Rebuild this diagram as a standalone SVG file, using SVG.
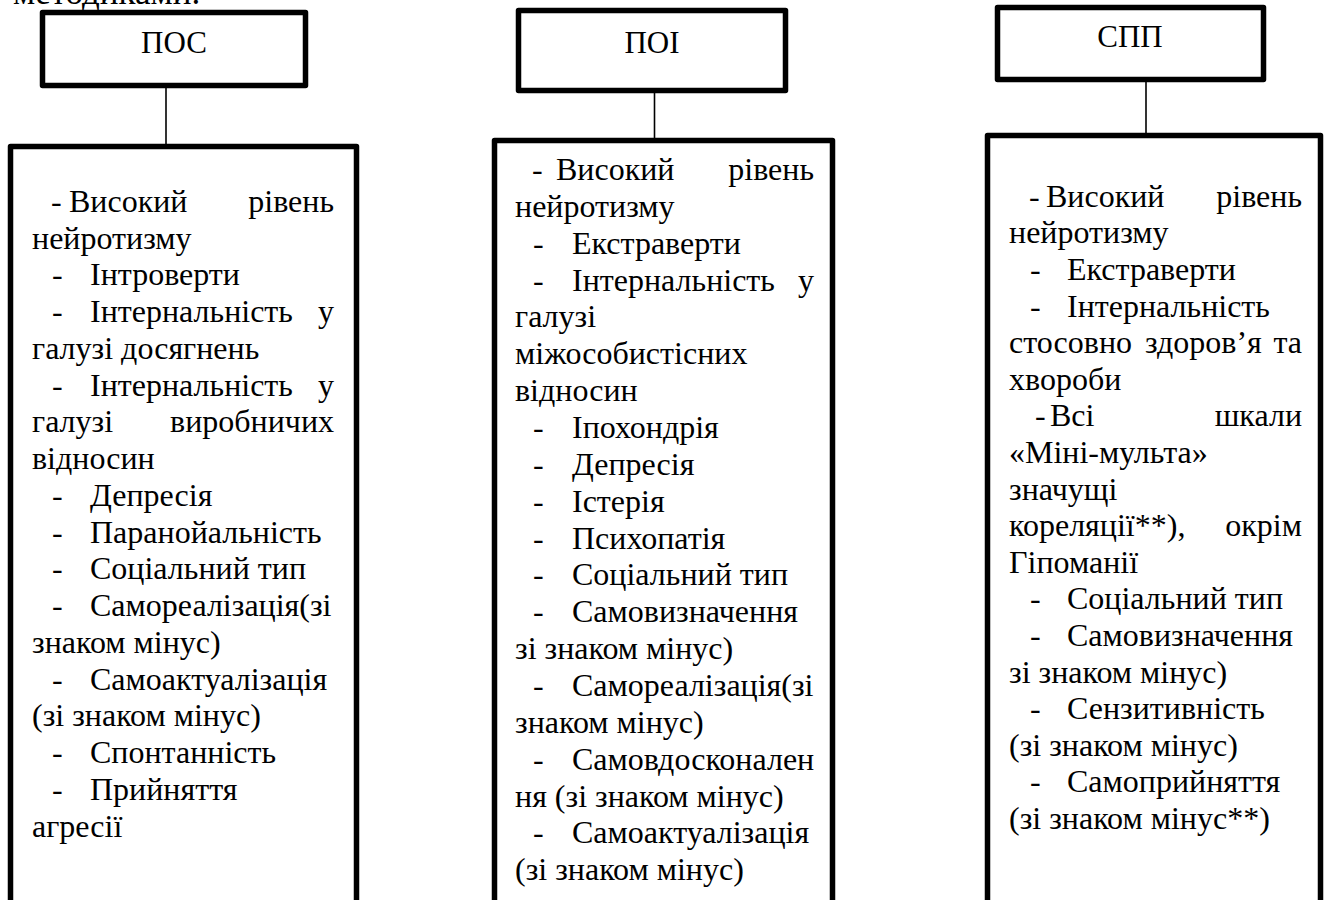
<svg xmlns="http://www.w3.org/2000/svg" width="1328" height="900" viewBox="0 0 1328 900" font-family="'Liberation Serif', 'Times New Roman', Tinos, 'DejaVu Serif', serif">
<style>
text{font-family:'Liberation Serif','Times New Roman',Tinos,'DejaVu Serif',serif;font-size:32px;fill:#000}
.hdr{font-size:31px;text-anchor:middle}
.box{fill:#fff;stroke:#000;stroke-width:5.5;stroke-linejoin:round}
.e{text-anchor:end}
.conn line{stroke:#000;stroke-width:1.6}
</style>
<rect width="1328" height="900" fill="#fff"/>
<text x="13" y="4" style="font-size:35px">методиками.</text>
<g class="conn" id="connectors">
<line x1="166" y1="76" x2="166" y2="146"/>
<line x1="654.5" y1="93" x2="654.5" y2="140"/>
<line x1="1146" y1="80" x2="1146" y2="135"/>
</g>
<g id="poc">
<rect class="box" x="42.5" y="12.5" width="263" height="73"/>
<text class="hdr" x="174" y="53">ПОС</text>
</g>
<g id="poi">
<rect class="box" x="518.5" y="10.5" width="267" height="80"/>
<text class="hdr" x="652" y="53">ПОІ</text>
</g>
<g id="spp">
<rect class="box" x="997.5" y="7.5" width="266" height="72"/>
<text class="hdr" x="1130" y="47">СПП</text>
</g>
<g id="poc-list">
<rect class="box" x="10.5" y="146.5" width="346" height="780"/>
<text x="51" y="211.7">-</text><text x="69" y="211.7">Високий</text><text class="e" x="334" y="211.7">рівень</text>
<text x="32" y="248.5">нейротизму</text>
<text x="52" y="285.2">-</text><text x="90" y="285.2">Інтроверти</text>
<text x="52" y="322">-</text><text x="90" y="322">Інтернальність</text><text class="e" x="334" y="322">у</text>
<text x="32" y="358.7">галузі досягнень</text>
<text x="52" y="395.5">-</text><text x="90" y="395.5">Інтернальність</text><text class="e" x="334" y="395.5">у</text>
<text x="32" y="432.3">галузі</text><text class="e" x="334" y="432.3">виробничих</text>
<text x="32" y="469">відносин</text>
<text x="52" y="505.8">-</text><text x="90" y="505.8">Депресія</text>
<text x="52" y="542.5">-</text><text x="90" y="542.5">Паранойальність</text>
<text x="52" y="579.3">-</text><text x="90" y="579.3">Соціальний тип</text>
<text x="52" y="616">-</text><text x="90" y="616">Самореалізація(зі</text>
<text x="32" y="652.8">знаком мінус)</text>
<text x="52" y="689.6">-</text><text x="90" y="689.6">Самоактуалізація</text>
<text x="32" y="726.3">(зі знаком мінус)</text>
<text x="52" y="763.1">-</text><text x="90" y="763.1">Спонтанність</text>
<text x="52" y="799.8">-</text><text x="90" y="799.8">Прийняття</text>
<text x="32" y="836.6">агресії</text>
</g>
<g id="poi-list">
<rect class="box" x="494.5" y="140.5" width="338" height="780"/>
<text x="532" y="180">-</text><text x="556" y="180">Високий</text><text class="e" x="814" y="180">рівень</text>
<text x="515" y="216.9">нейротизму</text>
<text x="533" y="253.7">-</text><text x="572" y="253.7">Екстраверти</text>
<text x="533" y="290.6">-</text><text x="572" y="290.6">Інтернальність</text><text class="e" x="814" y="290.6">у</text>
<text x="515" y="327.4">галузі</text>
<text x="515" y="364.3">міжособистісних</text>
<text x="515" y="401.1">відносин</text>
<text x="533" y="438">-</text><text x="572" y="438">Іпохондрія</text>
<text x="533" y="474.8">-</text><text x="572" y="474.8">Депресія</text>
<text x="533" y="511.7">-</text><text x="572" y="511.7">Істерія</text>
<text x="533" y="548.5">-</text><text x="572" y="548.5">Психопатія</text>
<text x="533" y="585.4">-</text><text x="572" y="585.4">Соціальний тип</text>
<text x="533" y="622.2">-</text><text x="572" y="622.2">Самовизначення</text>
<text x="515" y="659.1">зі знаком мінус)</text>
<text x="533" y="695.9">-</text><text x="572" y="695.9">Самореалізація(зі</text>
<text x="515" y="732.8">знаком мінус)</text>
<text x="533" y="769.6">-</text><text x="572" y="769.6">Самовдосконален</text>
<text x="515" y="806.5">ня (зі знаком мінус)</text>
<text x="533" y="843.3">-</text><text x="572" y="843.3">Самоактуалізація</text>
<text x="515" y="880.2">(зі знаком мінус)</text>
</g>
<g id="spp-list">
<rect class="box" x="987.5" y="135.5" width="333" height="780"/>
<text x="1029" y="206.7">-</text><text x="1046" y="206.7">Високий</text><text class="e" x="1302" y="206.7">рівень</text>
<text x="1009" y="243.3">нейротизму</text>
<text x="1030" y="279.9">-</text><text x="1067" y="279.9">Екстраверти</text>
<text x="1030" y="316.5">-</text><text x="1067" y="316.5">Інтернальність</text>
<text x="1009" y="353.1">стосовно</text><text x="1145" y="353.1">здоров’я</text><text class="e" x="1302" y="353.1">та</text>
<text x="1009" y="389.7">хвороби</text>
<text x="1035" y="426.3">-</text><text x="1050" y="426.3">Всі</text><text class="e" x="1302" y="426.3">шкали</text>
<text x="1009" y="462.9">«Міні-мульта»</text>
<text x="1009" y="499.5">значущі</text>
<text x="1009" y="536.1">кореляції**),</text><text class="e" x="1302" y="536.1">окрім</text>
<text x="1009" y="572.7">Гіпоманії</text>
<text x="1030" y="609.3">-</text><text x="1067" y="609.3">Соціальний тип</text>
<text x="1030" y="645.9">-</text><text x="1067" y="645.9">Самовизначення</text>
<text x="1009" y="682.5">зі знаком мінус)</text>
<text x="1030" y="719.1">-</text><text x="1067" y="719.1">Сензитивність</text>
<text x="1009" y="755.7">(зі знаком мінус)</text>
<text x="1030" y="792.3">-</text><text x="1067" y="792.3">Самоприйняття</text>
<text x="1009" y="828.9">(зі знаком мінус**)</text>
</g>
</svg>
